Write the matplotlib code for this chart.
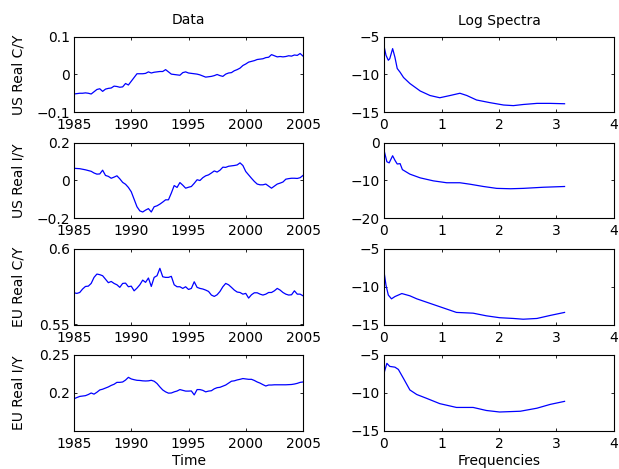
import numpy as np
import matplotlib
matplotlib.use("Agg")
import matplotlib.pyplot as plt

plt.rcParams['font.family'] = ['DejaVu Sans']

# ---------------- data ----------------
start_year = 1985
quarters_per_year = 4

us_cy = [-0.052, -0.051, -0.050, -0.050,
         -0.049, -0.050, -0.052, -0.046,
         -0.040, -0.038, -0.045, -0.039,
         -0.037, -0.036, -0.031, -0.032,
         -0.034, -0.033, -0.024, -0.028,
         -0.018, -0.008, 0.002, 0.002,
         0.002, 0.003, 0.007, 0.004,
         0.006, 0.007, 0.008, 0.008,
         0.013, 0.007, 0.001, 0.000,
         -0.001, -0.002, 0.005, 0.007,
         0.004, 0.003, 0.002, 0.001,
         -0.001, -0.004, -0.007, -0.006,
         -0.005, -0.003, 0.000, -0.003,
         -0.005, 0.001, 0.004, 0.005,
         0.010, 0.013, 0.017, 0.024,
         0.028, 0.033, 0.035, 0.037,
         0.040, 0.041, 0.042, 0.045,
         0.046, 0.053, 0.050, 0.047,
         0.048, 0.047, 0.048, 0.050,
         0.049, 0.052, 0.051, 0.056,
         0.049]

us_iy = [0.065, 0.064, 0.063, 0.060,
         0.057, 0.053, 0.049, 0.040,
         0.034, 0.035, 0.055, 0.027,
         0.022, 0.012, 0.018, 0.025,
         0.009, -0.010, -0.020, -0.037,
         -0.060, -0.100, -0.140, -0.162,
         -0.168, -0.158, -0.150, -0.168,
         -0.140, -0.135, -0.126, -0.115,
         -0.103, -0.103, -0.067, -0.027,
         -0.037, -0.011, -0.025, -0.041,
         -0.036, -0.032, -0.015, 0.004,
         0.000, 0.015, 0.025, 0.030,
         0.040, 0.051, 0.045, 0.055,
         0.071, 0.070, 0.076, 0.078,
         0.080, 0.083, 0.094, 0.080,
         0.048, 0.030, 0.012, -0.005,
         -0.019, -0.023, -0.023, -0.019,
         -0.030, -0.041, -0.030, -0.019,
         -0.014, -0.008, 0.007, 0.010,
         0.012, 0.012, 0.011, 0.015,
         0.027]

eu_cy = [0.5710, 0.5706, 0.5712, 0.5735,
         0.5752, 0.5754, 0.5772, 0.5812,
         0.5834, 0.5830, 0.5823, 0.5800,
         0.5777, 0.5785, 0.5772, 0.5763,
         0.5746, 0.5772, 0.5774, 0.5750,
         0.5754, 0.5723, 0.5741, 0.5763,
         0.5794, 0.5779, 0.5808, 0.5752,
         0.5812, 0.5823, 0.5872, 0.5816,
         0.5812, 0.5812, 0.5819, 0.5763,
         0.5750, 0.5750, 0.5739, 0.5750,
         0.5732, 0.5739, 0.5783, 0.5746,
         0.5739, 0.5735, 0.5728, 0.5719,
         0.5695, 0.5686, 0.5697, 0.5719,
         0.5750, 0.5772, 0.5763, 0.5746,
         0.5728, 0.5715, 0.5712, 0.5701,
         0.5706, 0.5675, 0.5697, 0.5710,
         0.5710, 0.5701, 0.5695, 0.5701,
         0.5712, 0.5712, 0.5723, 0.5739,
         0.5728, 0.5712, 0.5701, 0.5695,
         0.5697, 0.5723, 0.5701, 0.5701,
         0.5690]

eu_iy = [0.1925, 0.1940, 0.1955, 0.1960,
         0.1965, 0.1980, 0.2000, 0.1985,
         0.2010, 0.2040, 0.2050, 0.2065,
         0.2080, 0.2100, 0.2115, 0.2140,
         0.2140, 0.2145, 0.2170, 0.2206,
         0.2185, 0.2175, 0.2167, 0.2165,
         0.2160, 0.2158, 0.2160, 0.2167,
         0.2155, 0.2125, 0.2080, 0.2040,
         0.2015, 0.1998, 0.2000, 0.2015,
         0.2026, 0.2045, 0.2035, 0.2025,
         0.2025, 0.2027, 0.1975, 0.2045,
         0.2045, 0.2035, 0.2015, 0.2025,
         0.2030, 0.2055, 0.2070, 0.2075,
         0.2090, 0.2105, 0.2130, 0.2155,
         0.2160, 0.2172, 0.2180, 0.2190,
         0.2185, 0.2180, 0.2180, 0.2165,
         0.2145, 0.2130, 0.2110, 0.2092,
         0.2105, 0.2105, 0.2108, 0.2108,
         0.2108, 0.2108, 0.2108, 0.2110,
         0.2112, 0.2118, 0.2127, 0.2140,
         0.2145]

freq_us_cy = [0.0, 0.035, 0.075, 0.10, 0.15, 0.19, 0.23, 0.28, 0.34, 0.45, 0.63, 0.80,
              0.97, 1.15, 1.32, 1.44, 1.61, 1.84, 2.08, 2.25, 2.42, 2.66, 2.89, 3.14]
spec_us_cy = [-6.2, -7.44, -8.1, -7.9, -6.55, -7.7, -9.2, -9.7, -10.4, -11.2, -12.2, -12.8,
              -13.1, -12.8, -12.5, -12.8, -13.4, -13.75, -14.07, -14.15, -14.0, -13.85, -13.85, -13.9]

freq_us_iy = [0.0, 0.05, 0.09, 0.15, 0.19, 0.23, 0.28, 0.32, 0.45, 0.63, 0.86, 1.09,
              1.32, 1.50, 1.73, 1.96, 2.20, 2.42, 2.77, 3.14]
spec_us_iy = [-1.9, -5.0, -5.3, -3.4, -4.6, -5.6, -5.5, -7.1, -8.3, -9.3, -10.1, -10.6,
              -10.6, -11.0, -11.6, -12.1, -12.2, -12.1, -11.8, -11.6]

freq_eu_cy = [0.0, 0.035, 0.075, 0.13, 0.19, 0.31, 0.45, 0.57, 0.80, 1.03, 1.26, 1.55,
              1.78, 2.01, 2.25, 2.42, 2.66, 2.89, 3.14]
spec_eu_cy = [-8.0, -9.8, -11.1, -11.6, -11.3, -10.9, -11.2, -11.6, -12.2, -12.8, -13.4, -13.5,
              -13.85, -14.1, -14.2, -14.3, -14.2, -13.8, -13.4]

freq_eu_iy = [0.0, 0.05, 0.10, 0.19, 0.25, 0.34, 0.45, 0.57, 0.74, 0.97, 1.26, 1.55,
              1.78, 2.01, 2.37, 2.66, 2.89, 3.14]
spec_eu_iy = [-7.4, -6.1, -6.5, -6.6, -6.9, -8.1, -9.6, -10.2, -10.7, -11.4, -11.9, -11.9,
              -12.3, -12.5, -12.4, -12.0, -11.5, -11.1]

row_labels = ['US Real C/Y', 'US Real I/Y', 'EU Real C/Y', 'EU Real I/Y']

data_ylims = [(-0.1, 0.1), (-0.2, 0.2), (0.55, 0.6), (0.15, 0.25)]
data_yticks = [[-0.1, 0, 0.1], [-0.2, 0, 0.2], [0.55, 0.6], [0.2, 0.25]]
data_yticklabels = [['\u22120.1', '0', '0.1'], ['\u22120.2', '0', '0.2'],
                    ['0.55', '0.6'], ['0.2', '0.25']]
year_ticks = [1985, 1990, 1995, 2000, 2005]

spec_ylims = [(-15, -5), (-20, 0), (-15, -5), (-15, -5)]
spec_yticks = [[-15, -10, -5], [-20, -10, 0], [-15, -10, -5], [-15, -10, -5]]
spec_yticklabels = [['\u221215', '\u221210', '\u22125'], ['\u221220', '\u221210', '0'],
                    ['\u221215', '\u221210', '\u22125'], ['\u221215', '\u221210', '\u22125']]
freq_ticks = [0, 1, 2, 3, 4]

# ---------------- figure ----------------
W, H = 619, 469
fig = plt.figure(figsize=(W / 100, H / 100), dpi=100)

row_px = [(37, 112), (143, 218), (249, 324.5), (355, 431)]
left_px = (74, 303)
right_px = (384, 614)

series = [us_cy, us_iy, eu_cy, eu_iy]
spectra = [(freq_us_cy, spec_us_cy), (freq_us_iy, spec_us_iy),
           (freq_eu_cy, spec_eu_cy), (freq_eu_iy, spec_eu_iy)]

fs = 10


def style(ax):
    ax.tick_params(direction='in', length=2.5, width=0.6, top=True, right=True,
                   labelsize=fs, colors='black')
    ax.tick_params(axis='x', pad=4.5)
    ax.tick_params(axis='y', pad=3)
    for s in ax.spines.values():
        s.set_linewidth(0.8)


for r in range(4):
    y0, y1 = row_px[r]
    bottom = 1 - y1 / H
    height = (y1 - y0) / H
    lw_px = left_px[1] - left_px[0]

    ax = fig.add_axes([left_px[0] / W, bottom, lw_px / W, height])
    t = start_year + np.arange(len(series[r])) / quarters_per_year
    ax.plot(t, series[r], color='blue', lw=0.9)
    ax.set_xlim(1985, 2005)
    ax.set_ylim(*data_ylims[r])
    ax.set_xticks(year_ticks)
    ax.set_xticklabels([str(y) for y in year_ticks])
    ax.set_yticks(data_yticks[r])
    ax.set_yticklabels(data_yticklabels[r])
    ax.set_ylabel(row_labels[r], fontsize=fs)
    ax.yaxis.set_label_coords((26 - left_px[0]) / lw_px, 0.5)
    style(ax)
    if r == 0:
        ax.set_title('Data', fontsize=fs, pad=9)
    if r == 3:
        ax.set_xlabel('Time', fontsize=fs, labelpad=2)

    ax2 = fig.add_axes([right_px[0] / W, bottom, (right_px[1] - right_px[0]) / W, height])
    f, s = spectra[r]
    ax2.plot(f, s, color='blue', lw=0.9)
    ax2.set_xlim(0, 4)
    ax2.set_ylim(*spec_ylims[r])
    ax2.set_xticks(freq_ticks)
    ax2.set_xticklabels([str(v) for v in freq_ticks])
    ax2.set_yticks(spec_yticks[r])
    ax2.set_yticklabels(spec_yticklabels[r])
    style(ax2)
    if r == 0:
        ax2.set_title('Log Spectra', fontsize=fs, pad=9)
    if r == 3:
        ax2.set_xlabel('Frequencies', fontsize=fs, labelpad=2)

fig.savefig('out.png', dpi=100, facecolor='white')
